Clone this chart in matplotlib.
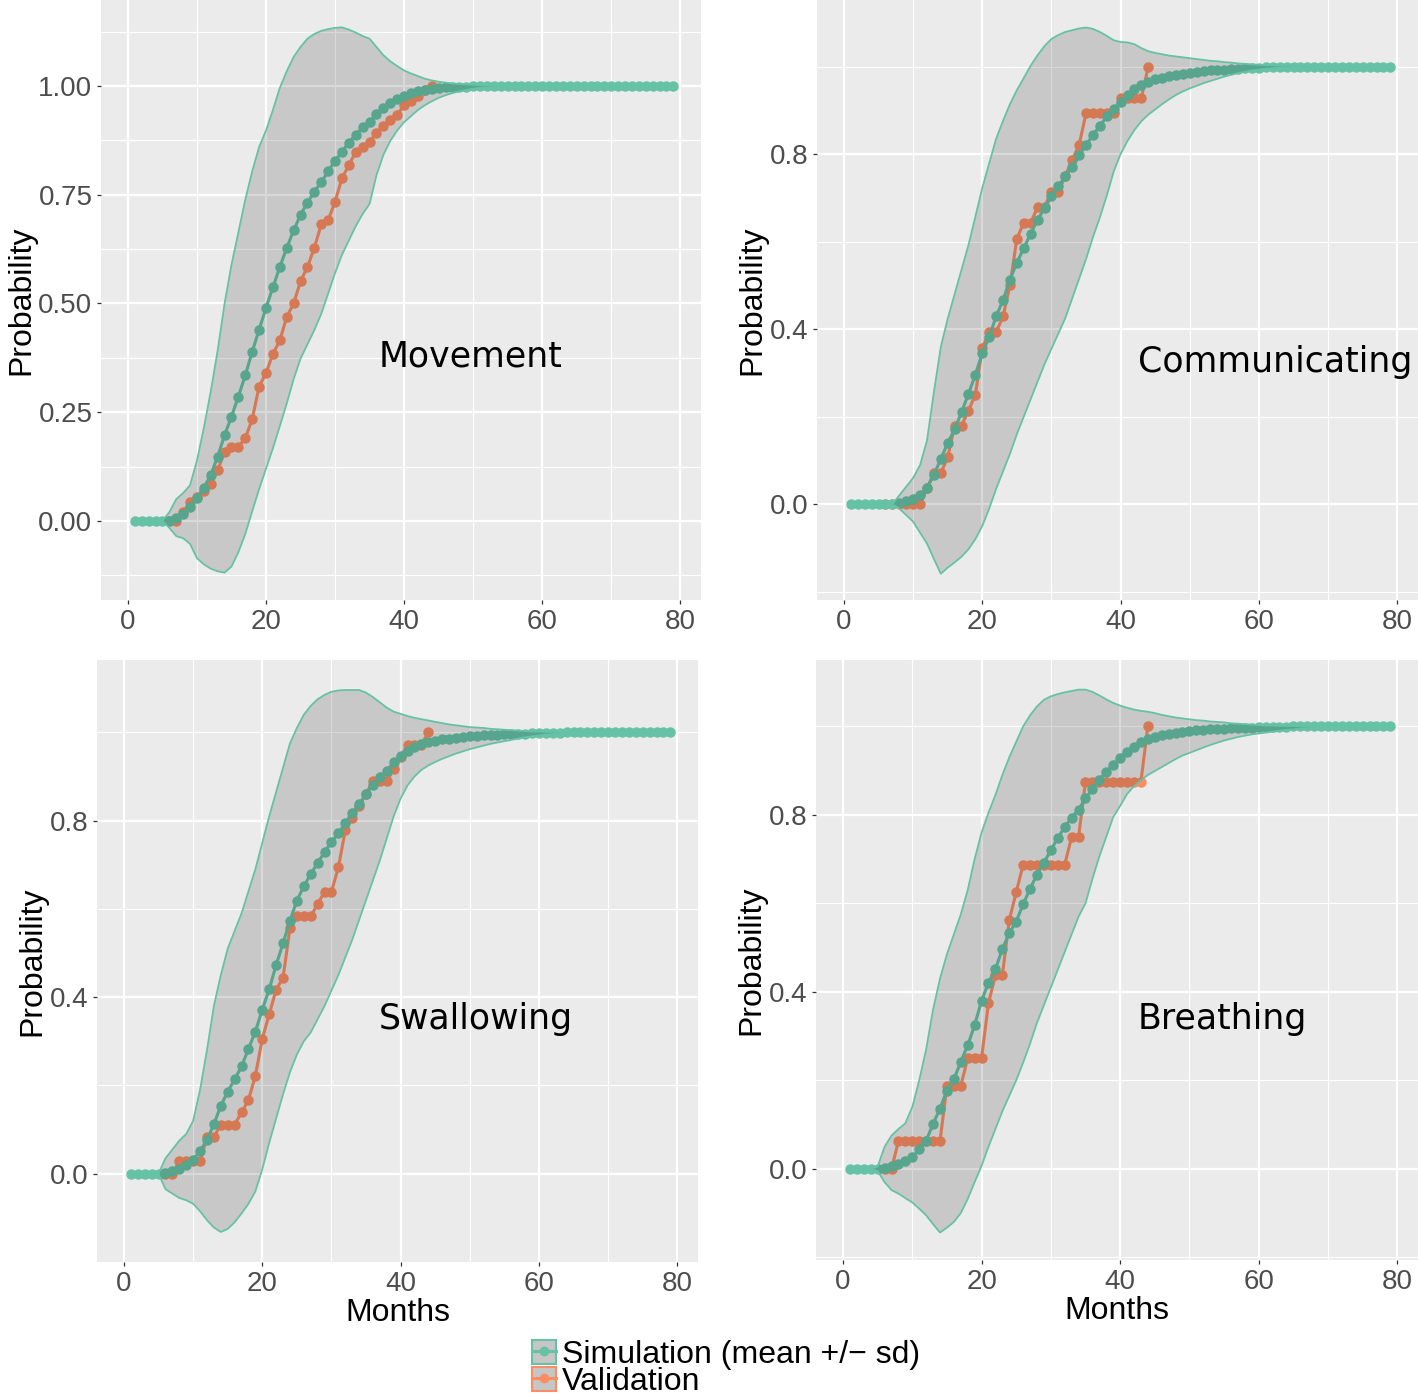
import matplotlib
matplotlib.use("Agg")
import matplotlib.pyplot as plt
from matplotlib.patches import Patch
from matplotlib.lines import Line2D
from matplotlib.legend_handler import HandlerTuple

plt.rcParams['font.family'] = ['Liberation Sans', 'DejaVu Sans']

# ---------------- data ----------------
months = list(range(1, 80))
val_months = list(range(6, 45))
panel_names = ["Movement", "Communicating", "Swallowing", "Breathing"]

movement_mean = [0, 0, 0, 0, 0, 0, 0.007, 0.015, 0.033, 0.052, 0.076, 0.106, 0.148, 0.197, 0.24, 0.286, 0.335,
                 0.389, 0.44, 0.49, 0.537, 0.584, 0.628, 0.668, 0.704, 0.732, 0.757, 0.779, 0.804, 0.828,
                 0.849, 0.87, 0.888, 0.905, 0.918, 0.935, 0.949, 0.962, 0.97, 0.977, 0.984, 0.989, 0.992,
                 0.994, 0.996, 0.997, 0.998, 0.999, 0.999] + [1.0] * 30
movement_upper = [0] * 5 + [0.02, 0.05, 0.064, 0.082, 0.139, 0.214, 0.298, 0.392, 0.5, 0.589, 0.664, 0.739,
                            0.804, 0.86, 0.898, 0.945, 0.996, 1.034, 1.067, 1.09, 1.109, 1.12, 1.127, 1.131,
                            1.134, 1.135, 1.13, 1.123, 1.115, 1.109, 1.09, 1.071, 1.057, 1.046, 1.036, 1.029,
                            1.023, 1.017, 1.013, 1.01, 1.008, 1.006, 1.005, 1.004, 1.003, 1.002, 1.002, 1.001,
                            1.001] + [1.0] * 25
movement_lower = [0] * 5 + [-0.016, -0.035, -0.04, -0.053, -0.086, -0.1, -0.11, -0.116, -0.119, -0.105, -0.072,
                            -0.03, 0.022, 0.073, 0.12, 0.167, 0.218, 0.27, 0.326, 0.373, 0.406, 0.439, 0.476,
                            0.523, 0.57, 0.612, 0.645, 0.678, 0.706, 0.729, 0.795, 0.842, 0.874, 0.898, 0.917,
                            0.931, 0.945, 0.956, 0.965, 0.973, 0.979, 0.984, 0.988, 0.991, 0.994, 0.996, 0.997,
                            0.998, 0.999] + [1.0] * 25
movement_val = [0, 0, 0.02, 0.043, 0.056, 0.068, 0.084, 0.117, 0.159, 0.171, 0.171, 0.19, 0.234, 0.309, 0.34,
                0.384, 0.415, 0.469, 0.5, 0.551, 0.584, 0.628, 0.682, 0.692, 0.734, 0.788, 0.818, 0.849, 0.86,
                0.872, 0.893, 0.909, 0.921, 0.933, 0.957, 0.966, 0.977, 0.99, 1.0]

communicating_mean = [0] * 7 + [0.003, 0.007, 0.012, 0.021, 0.037, 0.067, 0.103, 0.14, 0.171, 0.21, 0.252,
                                0.296, 0.345, 0.382, 0.429, 0.466, 0.513, 0.552, 0.585, 0.618, 0.65, 0.676,
                                0.704, 0.727, 0.749, 0.771, 0.797, 0.82, 0.844, 0.864, 0.886, 0.902, 0.918,
                                0.935, 0.948, 0.958, 0.965, 0.971, 0.974, 0.978, 0.981, 0.984, 0.986, 0.988,
                                0.99, 0.991, 0.992, 0.993, 0.994, 0.995, 0.996, 0.997, 0.997, 0.998, 0.998,
                                0.999, 0.999, 0.999] + [1.0] * 14
communicating_upper = [0] * 7 + [0.02, 0.04, 0.06, 0.089, 0.145, 0.256, 0.359, 0.424, 0.48, 0.536, 0.592,
                                 0.657, 0.723, 0.779, 0.835, 0.876, 0.914, 0.946, 0.974, 1.002, 1.026, 1.047,
                                 1.063, 1.072, 1.079, 1.083, 1.087, 1.089, 1.086, 1.079, 1.07, 1.06, 1.056,
                                 1.055, 1.051, 1.042, 1.035, 1.031, 1.028, 1.025, 1.023, 1.021, 1.019, 1.017,
                                 1.015, 1.013, 1.012, 1.01, 1.009, 1.007, 1.006, 1.005, 1.004, 1.003, 1.003,
                                 1.002, 1.002, 1.001, 1.001, 1.001] + [1.0] * 12
communicating_lower = [0] * 7 + [-0.01, -0.025, -0.04, -0.065, -0.09, -0.125, -0.159, -0.145, -0.133, -0.12,
                                 -0.103, -0.08, -0.05, -0.01, 0.035, 0.075, 0.115, 0.16, 0.2, 0.24, 0.28, 0.32,
                                 0.355, 0.39, 0.425, 0.47, 0.515, 0.56, 0.61, 0.655, 0.705, 0.76, 0.8, 0.83,
                                 0.855, 0.875, 0.89, 0.902, 0.914, 0.925, 0.935, 0.943, 0.95, 0.956, 0.962,
                                 0.967, 0.972, 0.977, 0.981, 0.985, 0.988, 0.991, 0.993, 0.995, 0.996, 0.997,
                                 0.998, 0.999, 0.999, 0.999] + [1.0] * 12
communicating_val = [0, 0, 0, 0, 0, 0, 0.036, 0.071, 0.071, 0.107, 0.179, 0.179, 0.214, 0.25, 0.357, 0.393,
                     0.393, 0.429, 0.5, 0.607, 0.643, 0.643, 0.679, 0.679, 0.714, 0.714, 0.75, 0.786, 0.821,
                     0.893, 0.893, 0.893, 0.893, 0.893, 0.929, 0.929, 0.929, 0.929, 1.0]

swallowing_mean = [0] * 5 + [0.002, 0.006, 0.011, 0.02, 0.031, 0.052, 0.076, 0.112, 0.154, 0.186, 0.214,
                             0.243, 0.283, 0.322, 0.372, 0.418, 0.473, 0.522, 0.573, 0.619, 0.651, 0.679,
                             0.704, 0.729, 0.752, 0.771, 0.794, 0.817, 0.838, 0.86, 0.881, 0.898, 0.913, 0.932,
                             0.946, 0.958, 0.967, 0.973, 0.978, 0.981, 0.984, 0.986, 0.988, 0.99, 0.991, 0.992,
                             0.993, 0.994, 0.995, 0.996, 0.996, 0.997, 0.997, 0.998, 0.998, 0.999, 0.999,
                             0.999] + [1.0] * 16
swallowing_upper = [0] * 5 + [0.035, 0.055, 0.075, 0.09, 0.12, 0.19, 0.28, 0.38, 0.45, 0.51, 0.55, 0.59, 0.64,
                              0.69, 0.75, 0.81, 0.865, 0.92, 0.975, 1.01, 1.04, 1.06, 1.075, 1.085, 1.092,
                              1.095, 1.096, 1.096, 1.096, 1.09, 1.08, 1.068, 1.056, 1.047, 1.042, 1.037, 1.033,
                              1.03, 1.027, 1.024, 1.021, 1.018, 1.016, 1.014, 1.012, 1.011, 1.01, 1.008, 1.007,
                              1.006, 1.005, 1.004, 1.003, 1.002, 1.002, 1.001, 1.001, 1.001] + [1.0] * 16
swallowing_lower = [0] * 5 + [-0.035, -0.045, -0.055, -0.06, -0.068, -0.085, -0.105, -0.122, -0.132, -0.125,
                              -0.11, -0.09, -0.068, -0.04, 0.01, 0.07, 0.125, 0.18, 0.23, 0.27, 0.3, 0.32, 0.35,
                              0.38, 0.415, 0.45, 0.49, 0.53, 0.575, 0.62, 0.665, 0.71, 0.76, 0.81, 0.85, 0.88,
                              0.9, 0.915, 0.925, 0.933, 0.94, 0.946, 0.952, 0.957, 0.962, 0.966, 0.97, 0.974,
                              0.977, 0.98, 0.983, 0.986, 0.989, 0.991, 0.993, 0.995, 0.996, 0.998] + [1.0] * 16
swallowing_val = [0, 0, 0.028, 0.028, 0.028, 0.028, 0.083, 0.083, 0.111, 0.111, 0.111, 0.139, 0.167, 0.222,
                  0.306, 0.361, 0.417, 0.444, 0.556, 0.583, 0.583, 0.583, 0.611, 0.639, 0.639, 0.694, 0.778,
                  0.806, 0.833, 0.861, 0.889, 0.889, 0.889, 0.917, 0.944, 0.972, 0.972, 0.972, 1.0]

breathing_mean = [0] * 5 + [0.003, 0.006, 0.012, 0.018, 0.026, 0.044, 0.063, 0.102, 0.136, 0.177, 0.202,
                            0.242, 0.279, 0.325, 0.38, 0.421, 0.451, 0.497, 0.533, 0.559, 0.598, 0.633, 0.665,
                            0.692, 0.72, 0.748, 0.772, 0.794, 0.812, 0.837, 0.858, 0.879, 0.897, 0.913, 0.929,
                            0.943, 0.954, 0.964, 0.971, 0.977, 0.98, 0.983, 0.986, 0.988, 0.99, 0.991, 0.992,
                            0.993, 0.994, 0.995, 0.996, 0.996, 0.997, 0.997, 0.998, 0.998, 0.999, 0.999,
                            0.999] + [1.0] * 15
breathing_upper = [0] * 4 + [0.005, 0.05, 0.075, 0.09, 0.103, 0.14, 0.2, 0.27, 0.36, 0.43, 0.485, 0.53, 0.575,
                             0.63, 0.7, 0.76, 0.805, 0.845, 0.89, 0.93, 0.965, 1.0, 1.025, 1.045, 1.06, 1.068,
                             1.073, 1.077, 1.08, 1.083, 1.083, 1.078, 1.07, 1.061, 1.053, 1.047, 1.042, 1.038,
                             1.035, 1.033, 1.03, 1.026, 1.023, 1.02, 1.018, 1.016, 1.014, 1.013, 1.011, 1.01,
                             1.009, 1.007, 1.006, 1.005, 1.004, 1.003, 1.002, 1.002, 1.001, 1.001,
                             1.001] + [1.0] * 14
breathing_lower = [0] * 4 + [-0.005, -0.03, -0.048, -0.056, -0.066, -0.076, -0.09, -0.105, -0.125, -0.144,
                             -0.133, -0.12, -0.1, -0.068, -0.03, 0.007, 0.05, 0.09, 0.13, 0.165, 0.2, 0.24,
                             0.283, 0.33, 0.37, 0.41, 0.45, 0.49, 0.53, 0.57, 0.6, 0.655, 0.706, 0.75, 0.795,
                             0.82, 0.847, 0.865, 0.878, 0.89, 0.899, 0.908, 0.917, 0.926, 0.934, 0.94, 0.946,
                             0.952, 0.958, 0.963, 0.968, 0.972, 0.976, 0.979, 0.982, 0.984, 0.986, 0.988, 0.99,
                             0.992, 0.993, 0.995, 0.996, 0.997, 0.998, 0.999] + [1.0] * 9
breathing_val = [0, 0] + [0.0625] * 7 + [0.1875] * 3 + [0.25] * 3 + [0.375, 0.4375, 0.4375, 0.5625, 0.625] + \
                [0.6875] * 7 + [0.75] * 2 + [0.875] * 9 + [1.0]

means = [movement_mean, communicating_mean, swallowing_mean, breathing_mean]
uppers = [movement_upper, communicating_upper, swallowing_upper, breathing_upper]
lowers = [movement_lower, communicating_lower, swallowing_lower, breathing_lower]
vals = [movement_val, communicating_val, swallowing_val, breathing_val]

# ---------------- style / layout ----------------
TEAL = '#66C2A5'
ORANGE = '#FC8D62'
BG = '#EBEBEB'
W, H = 1418, 1396

panel_px = [(101, 0, 701, 600), (817, 0, 1418, 600), (97, 660, 698, 1262), (816, 660, 1418, 1260)]
ylims = [(-0.182, 1.198), (-0.219, 1.152), (-0.197, 1.164), (-0.206, 1.150)]
label_pos = [(49.6, 0.354), (62.4, 0.303), (50.9, 0.329), (54.7, 0.317)]

fig = plt.figure(figsize=(W / 100, H / 100), dpi=100)

for i in range(4):
    l, t, r, b = panel_px[i]
    ax = fig.add_axes([l / W, 1 - b / H, (r - l) / W, (b - t) / H])
    ax.set_facecolor(BG)
    for s in ax.spines.values():
        s.set_visible(False)

    ax.plot(val_months, vals[i], color=ORANGE, lw=2.2, marker='o', ms=6.5, zorder=3)
    ax.plot(months, means[i], color=TEAL, lw=2.2, marker='o', ms=6.5, zorder=4)
    ax.fill_between(months, lowers[i], uppers[i], facecolor=(0, 0, 0, 0.15), edgecolor='none', zorder=5)
    ax.plot(months, uppers[i], color=TEAL, lw=1.3, zorder=6)
    ax.plot(months, lowers[i], color=TEAL, lw=1.3, zorder=6)

    ax.set_xlim(-3.9, 83.0)
    ax.set_ylim(*ylims[i])
    ax.set_xticks([0, 20, 40, 60, 80])
    ax.set_xticks([10, 30, 50, 70], minor=True)
    if i == 0:
        ax.set_yticks([0, 0.25, 0.5, 0.75, 1.0])
        ax.set_yticklabels(['0.00', '0.25', '0.50', '0.75', '1.00'])
        ax.set_yticks([-0.125, 0.125, 0.375, 0.625, 0.875, 1.125], minor=True)
    else:
        ax.set_yticks([0, 0.4, 0.8])
        ax.set_yticklabels(['0.0', '0.4', '0.8'])
        ax.set_yticks([-0.2, 0.2, 0.6, 1.0], minor=True)
    ax.grid(which='major', color='white', lw=1.6, zorder=0)
    ax.grid(which='minor', color='white', lw=0.8, zorder=0)
    ax.set_axisbelow(True)
    ax.tick_params(which='major', length=3.2, width=0.9, color='#333333', labelsize=20,
                   labelcolor='#4D4D4D', pad=3)
    ax.tick_params(which='minor', length=0)
    ax.set_ylabel('Probability', fontsize=23, color='black', labelpad=1.5)
    if i >= 2:
        ax.set_xlabel('Months', fontsize=23, color='black', labelpad=1)

    ax.text(label_pos[i][0], label_pos[i][1], panel_names[i], fontsize=25, family='DejaVu Sans',
            color='black', ha='center', va='baseline', zorder=7)

# ---------------- legend ----------------
h1 = (Patch(facecolor='#C6C6C6', edgecolor=TEAL, lw=1.5),
      Line2D([], [], color=TEAL, lw=2.2, marker='o', ms=6))
h2 = (Patch(facecolor='#C6C6C6', edgecolor=ORANGE, lw=1.5),
      Line2D([], [], color=ORANGE, lw=2.2, marker='o', ms=6))
fig.legend([h1, h2], ['Simulation (mean +/\u2212 sd)', 'Validation'],
           handler_map={tuple: HandlerTuple(ndivide=1)},
           loc='lower left', bbox_to_anchor=(532 / W, -1 / H), frameon=False, fontsize=23,
           handlelength=0.75, handleheight=0.8, handletextpad=0.2, labelspacing=-0.1,
           borderpad=0, borderaxespad=0)

fig.savefig('out.png', dpi=100, facecolor='white')
